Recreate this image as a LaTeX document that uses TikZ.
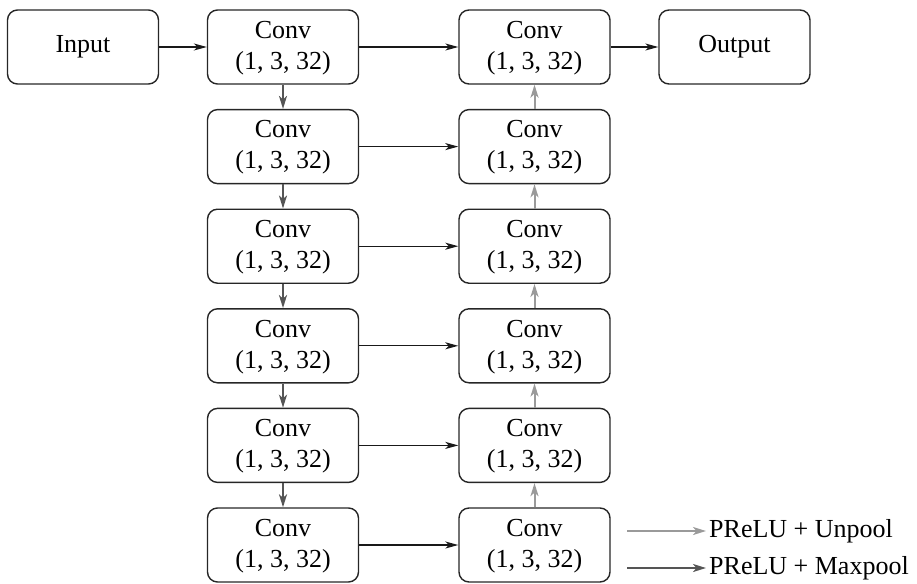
\documentclass[tikz,border=0pt]{standalone}
\usepackage{fontspec}
\setmainfont{Liberation Serif}
\usetikzlibrary{arrows.meta}
\definecolor{upgray}{HTML}{9A9A9A}
\definecolor{downgray}{HTML}{555555}
\begin{document}
\begin{tikzpicture}[x=1pt,y=-1pt,
  blk/.style={draw=black!85, line width=1.4pt, rounded corners=10pt, minimum width=151pt, minimum height=74pt, align=center, font=\fontsize{26}{31}\selectfont, inner sep=0pt},
  txt/.style={align=center, font=\fontsize{26}{31}\selectfont, inner sep=0pt},
  harr/.style={-{Stealth[length=13pt,width=7pt,inset=3.5pt]}, line width=1.3pt, black!90},
  uparr/.style={-{Stealth[length=13pt,width=8pt,inset=3.5pt]}, line width=2pt, upgray},
  dnarr/.style={-{Stealth[length=13pt,width=8pt,inset=3.5pt]}, line width=2pt, downgray},
  lbl/.style={anchor=west, font=\fontsize{26}{30}\selectfont, inner sep=0pt}]
\useasboundingbox (0,0) rectangle (917,583);
\node[blk] (in) at (83,47) {Input};
\node[blk] (out) at (734.5,47) {Output};
\foreach \i in {1,...,6} {
  \pgfmathsetmacro{\yy}{47+99.6*(\i-1)}
  \node[blk] (a\i) at (283,\yy) {};
  \node[txt] (ta\i) at ([yshift=-1pt]a\i.center) {Conv\\(1, 3, 32)};
  \node[blk] (b\i) at (534.5,\yy) {};
  \node[txt] (tb\i) at ([yshift=-1pt]b\i.center) {Conv\\(1, 3, 32)};
}
\draw[harr] (in) -- (a1);
\draw[harr] (b1) -- (out);
\foreach \i in {1,...,6} { \draw[harr] (a\i) -- (b\i); }
\foreach \i/\j in {1/2,2/3,3/4,4/5,5/6} {
  \draw[dnarr] (a\i) -- (a\j);
  \draw[uparr] (b\j) -- (b\i);
}
\coordinate (l1s) at (627,531);
\coordinate (l1e) at (706,531);
\coordinate (l2s) at (627,568);
\coordinate (l2e) at (706,568);
\draw[uparr] (l1s) -- (l1e);
\draw[dnarr] (l2s) -- (l2e);
\node[lbl] (t1) at (709,531) {PReLU + Unpool};
\node[lbl] (t2) at (709,568) {PReLU + Maxpool};
\end{tikzpicture}
\end{document}
